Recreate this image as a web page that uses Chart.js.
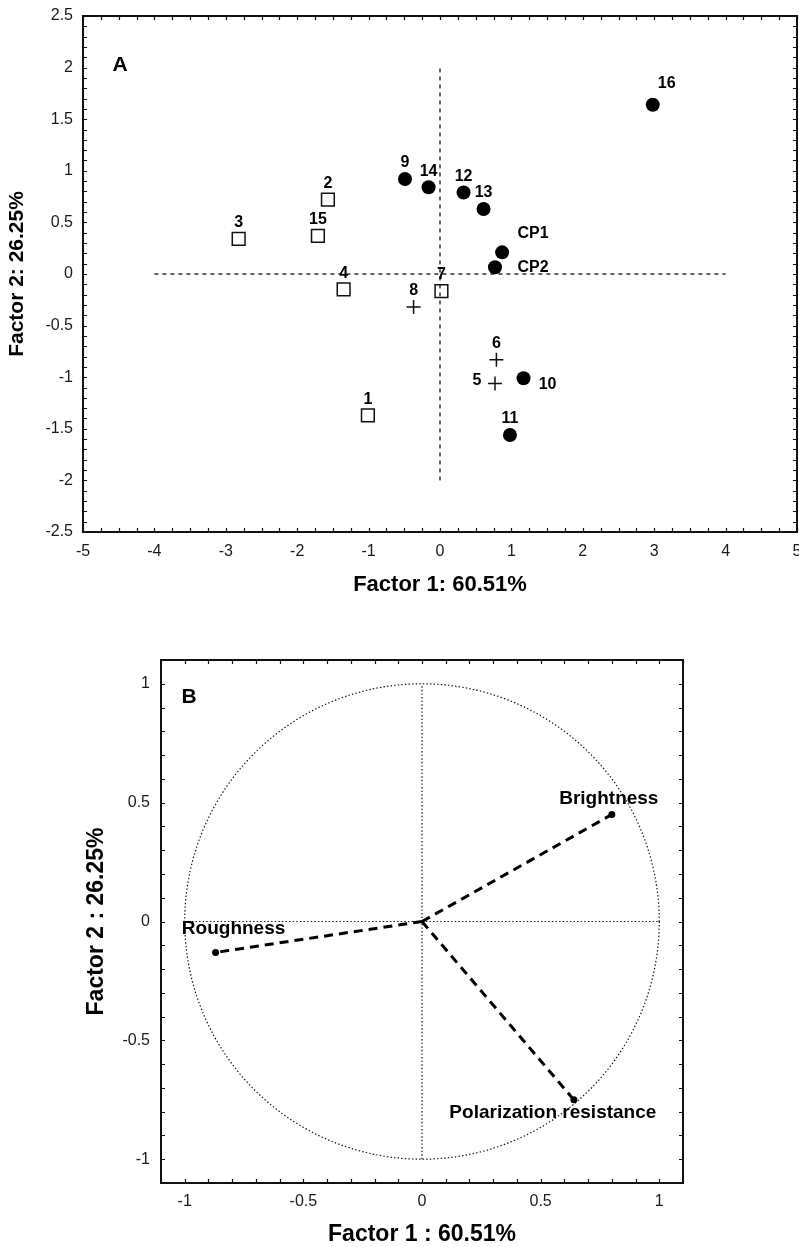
<!DOCTYPE html>
<html>
<head>
<meta charset="utf-8">
<script src="https://cdn.jsdelivr.net/npm/chart.js@4.4.1/dist/chart.umd.min.js"></script>
<style>
  body { margin: 0; background: #fff; overflow: hidden; }
  .box { position: absolute; left: 0; }
  #boxA { top: 0; width: 809px; height: 620px; }
  #boxB { top: 620px; width: 799px; height: 627px; }
</style>
</head>
<body>
<div class="box" id="boxA"><canvas id="chartA"></canvas></div>
<div class="box" id="boxB"><canvas id="chartB"></canvas></div>
<script>
// ---- Panel A: scores ----
const squareNames = ['1', '2', '3', '4', '7', '15'];
const squareX = [-1.01, -1.57, -2.82, -1.35, 0.02, -1.71];
const squareY = [-1.37, 0.72, 0.34, -0.15, -0.165, 0.37];

const crossNames = ['5', '6', '8'];
const crossX = [0.77, 0.79, -0.37];
const crossY = [-1.06, -0.83, -0.32];

const circleNames = ['9', '10', '11', '12', '13', '14', '16', 'CP1', 'CP2'];
const circleX = [-0.49, 1.17, 0.98, 0.33, 0.61, -0.16, 2.98, 0.87, 0.77];
const circleY = [0.92, -1.01, -1.56, 0.79, 0.63, 0.84, 1.64, 0.21, 0.065];

const refLineXA = [-4, 4];   // dashed horizontal at y = 0
const refLineYA = [-2, 2];   // dashed vertical at x = 0

const xTicksA = [-5, -4, -3, -2, -1, 0, 1, 2, 3, 4, 5];
const yTicksA = [-2.5, -2, -1.5, -1, -0.5, 0, 0.5, 1, 1.5, 2, 2.5];

// ---- Panel B: loadings ----
const loadingNames = ['Roughness', 'Brightness', 'Polarization resistance'];
const loadingX = [-0.87, 0.80, 0.64];
const loadingY = [-0.13, 0.45, -0.75];

const refLineB = [-1, 1];
const xTicksB = [-1, -0.5, 0, 0.5, 1];
const yTicksB = [-1, -0.5, 0, 0.5, 1];

const FONT = "'Liberation Sans', Arial, sans-serif";
const INK = '#111';

// label offsets (px) from the marker, default is centred above
const labelOffsets = {
  '16': [14, -21], 'CP1': [31, -19], 'CP2': [38, 0], '5': [-18, -3], '10': [24, 6],
  'Roughness': [18, -24], 'Brightness': [-3, -16], 'Polarization resistance': [-21, 13]
};

const pts = (xs, ys) => xs.map((x, i) => ({ x: x, y: ys[i] }));

// draws the point names next to each marker
const pointNames = {
  id: 'pointNames',
  afterDatasetsDraw(chart) {
    const ctx = chart.ctx;
    ctx.save();
    ctx.fillStyle = '#000';
    ctx.textAlign = 'center';
    ctx.textBaseline = 'middle';
    chart.data.datasets.forEach((ds, i) => {
      if (!ds.names) return;
      ctx.font = ds.nameFont;
      const meta = chart.getDatasetMeta(i);
      ds.names.forEach((name, j) => {
        const el = meta.data[j];
        if (!name || !el) return;
        const off = labelOffsets[name] || [0, -16];
        ctx.fillText(name, el.x + off[0], el.y + off[1]);
      });
    });
    ctx.restore();
  }
};

// frame, inward minor ticks on all four sides and the panel letter
const frame = {
  id: 'frame',
  afterDraw(chart, args, opts) {
    const { ctx, chartArea: a, scales: { x, y } } = chart;
    ctx.save();
    ctx.strokeStyle = INK;
    ctx.lineWidth = 1.2;
    ctx.beginPath();
    const nx = Math.round((x.max - x.min) / opts.xStep);
    for (let i = 0; i <= nx; i++) {
      const px = Math.round(x.getPixelForValue(x.min + i * opts.xStep)) + 0.5;
      ctx.moveTo(px, a.bottom); ctx.lineTo(px, a.bottom - opts.len);
      ctx.moveTo(px, a.top); ctx.lineTo(px, a.top + opts.len);
    }
    const ny = Math.round((y.max - y.min) / opts.yStep);
    for (let i = 0; i <= ny; i++) {
      const py = Math.round(y.getPixelForValue(y.min + i * opts.yStep)) + 0.5;
      ctx.moveTo(a.left, py); ctx.lineTo(a.left + opts.len, py);
      ctx.moveTo(a.right, py); ctx.lineTo(a.right - opts.len, py);
    }
    ctx.stroke();
    ctx.lineWidth = 2;
    ctx.strokeRect(a.left, a.top, a.width, a.height);
    ctx.fillStyle = '#000';
    ctx.font = 'bold 21px ' + FONT;
    ctx.textAlign = 'center';
    ctx.textBaseline = 'middle';
    ctx.fillText(opts.letter, a.left + opts.letterPos[0], a.top + opts.letterPos[1]);
    ctx.restore();
  }
};

// dotted unit circle for the loadings plot
const unitCircle = {
  id: 'unitCircle',
  beforeDatasetsDraw(chart, args, opts) {
    if (!opts.show) return;
    const { ctx, scales: { x, y } } = chart;
    const cx = x.getPixelForValue(0), cy = y.getPixelForValue(0);
    const rx = x.getPixelForValue(1) - cx, ry = cy - y.getPixelForValue(1);
    ctx.save();
    ctx.strokeStyle = '#111';
    ctx.lineWidth = 1.2;
    ctx.setLineDash([1.4, 2.2]);
    ctx.beginPath();
    ctx.ellipse(cx, cy, rx, ry, 0, 0, Math.PI * 2);
    ctx.stroke();
    ctx.restore();
  }
};

function axis(ticksArr, min, max, title, opts) {
  return {
    type: 'linear', min: min, max: max,
    afterBuildTicks: s => { s.ticks = ticksArr.map(v => ({ value: v })); },
    afterFit: s => {
      if (opts.width) s.width = opts.width;
      if (opts.height) s.height = opts.height;
      s.paddingLeft = 0; s.paddingRight = 0; s.paddingTop = 0; s.paddingBottom = 0;
    },
    grid: { display: false, drawTicks: false },
    border: { display: false },
    ticks: {
      padding: opts.pad, autoSkip: false, maxRotation: 0, minRotation: 0,
      color: '#1a1a1a', font: { family: FONT, size: 16 },
      callback: v => String(v)
    },
    title: {
      display: true, text: title, color: '#000',
      font: { family: FONT, size: opts.titleSize, weight: 'bold', lineHeight: opts.titleLH || 1.2 },
      padding: opts.titlePad
    }
  };
}

Chart.register(pointNames, frame, unitCircle);

new Chart(document.getElementById('chartA'), {
  type: 'scatter',
  data: {
    datasets: [
      {
        data: pts(circleX, circleY), names: circleNames, nameFont: 'bold 16px ' + FONT,
        pointStyle: 'circle', pointRadius: 7, backgroundColor: '#000', borderColor: '#000', borderWidth: 0
      },
      {
        data: pts(squareX, squareY), names: squareNames, nameFont: 'bold 16px ' + FONT,
        pointStyle: 'rect', pointRadius: 9, backgroundColor: 'rgba(0,0,0,0)', borderColor: INK, borderWidth: 1.5
      },
      {
        data: pts(crossX, crossY), names: crossNames, nameFont: 'bold 16px ' + FONT,
        pointStyle: 'cross', pointRadius: 7, borderColor: INK, borderWidth: 1.5
      },
      {
        data: refLineXA.map(v => ({ x: v, y: 0 })), showLine: true, pointRadius: 0,
        borderColor: INK, borderWidth: 1.3, borderDash: [4, 4]
      },
      {
        data: refLineYA.map(v => ({ x: 0, y: v })), showLine: true, pointRadius: 0,
        borderColor: INK, borderWidth: 1.3, borderDash: [4, 4]
      }
    ]
  },
  options: {
    responsive: true, maintainAspectRatio: false, animation: false, devicePixelRatio: 1,
    layout: { padding: { top: 16, right: 12, left: 0, bottom: 0 } },
    plugins: {
      legend: { display: false }, tooltip: { enabled: false },
      frame: { xStep: 0.25, yStep: 0.1, len: 4, letter: 'A', letterPos: [37, 49] },
      unitCircle: { show: false }
    },
    scales: {
      x: axis(xTicksA, -5, 5, 'Factor 1: 60.51%', { height: 88, pad: 10, titleSize: 22, titlePad: { top: 0, bottom: 22 } }),
      y: axis(yTicksA, -2.5, 2.5, 'Factor 2: 26.25%', { width: 83, pad: 10, titleSize: 21, titlePad: { top: 5, bottom: 0 } })
    }
  }
});

const vectorSets = loadingNames.map((name, i) => ({
  data: [{ x: 0, y: 0 }, { x: loadingX[i], y: loadingY[i] }],
  names: ['', name], nameFont: 'bold 19px ' + FONT,
  showLine: true, borderColor: '#000', borderWidth: 3, borderDash: [9, 6],
  pointRadius: [0, 3.5], pointBackgroundColor: '#000', pointBorderWidth: 0
}));

new Chart(document.getElementById('chartB'), {
  type: 'scatter',
  data: {
    datasets: vectorSets.concat([
      {
        data: refLineB.map(v => ({ x: v, y: 0 })), showLine: true, pointRadius: 0,
        borderColor: '#111', borderWidth: 1.2, borderDash: [1.4, 2.2]
      },
      {
        data: refLineB.map(v => ({ x: 0, y: v })), showLine: true, pointRadius: 0,
        borderColor: '#111', borderWidth: 1.2, borderDash: [1.4, 2.2]
      }
    ])
  },
  options: {
    responsive: true, maintainAspectRatio: false, animation: false, devicePixelRatio: 1,
    layout: { padding: { top: 40, right: 116, left: 0, bottom: 0 } },
    plugins: {
      legend: { display: false }, tooltip: { enabled: false },
      frame: { xStep: 0.1, yStep: 0.1, len: 4, letter: 'B', letterPos: [28, 37] },
      unitCircle: { show: true }
    },
    scales: {
      x: axis(xTicksB, -1.1, 1.1, 'Factor 1 : 60.51%', { height: 64, pad: 9, titleSize: 23, titleLH: 1, titlePad: { top: 0, bottom: 1 } }),
      y: axis(yTicksB, -1.1, 1.1, 'Factor 2 : 26.25%', { width: 161, pad: 11, titleSize: 23, titlePad: { top: 83, bottom: 0 } })
    }
  }
});
</script>
</body>
</html>
